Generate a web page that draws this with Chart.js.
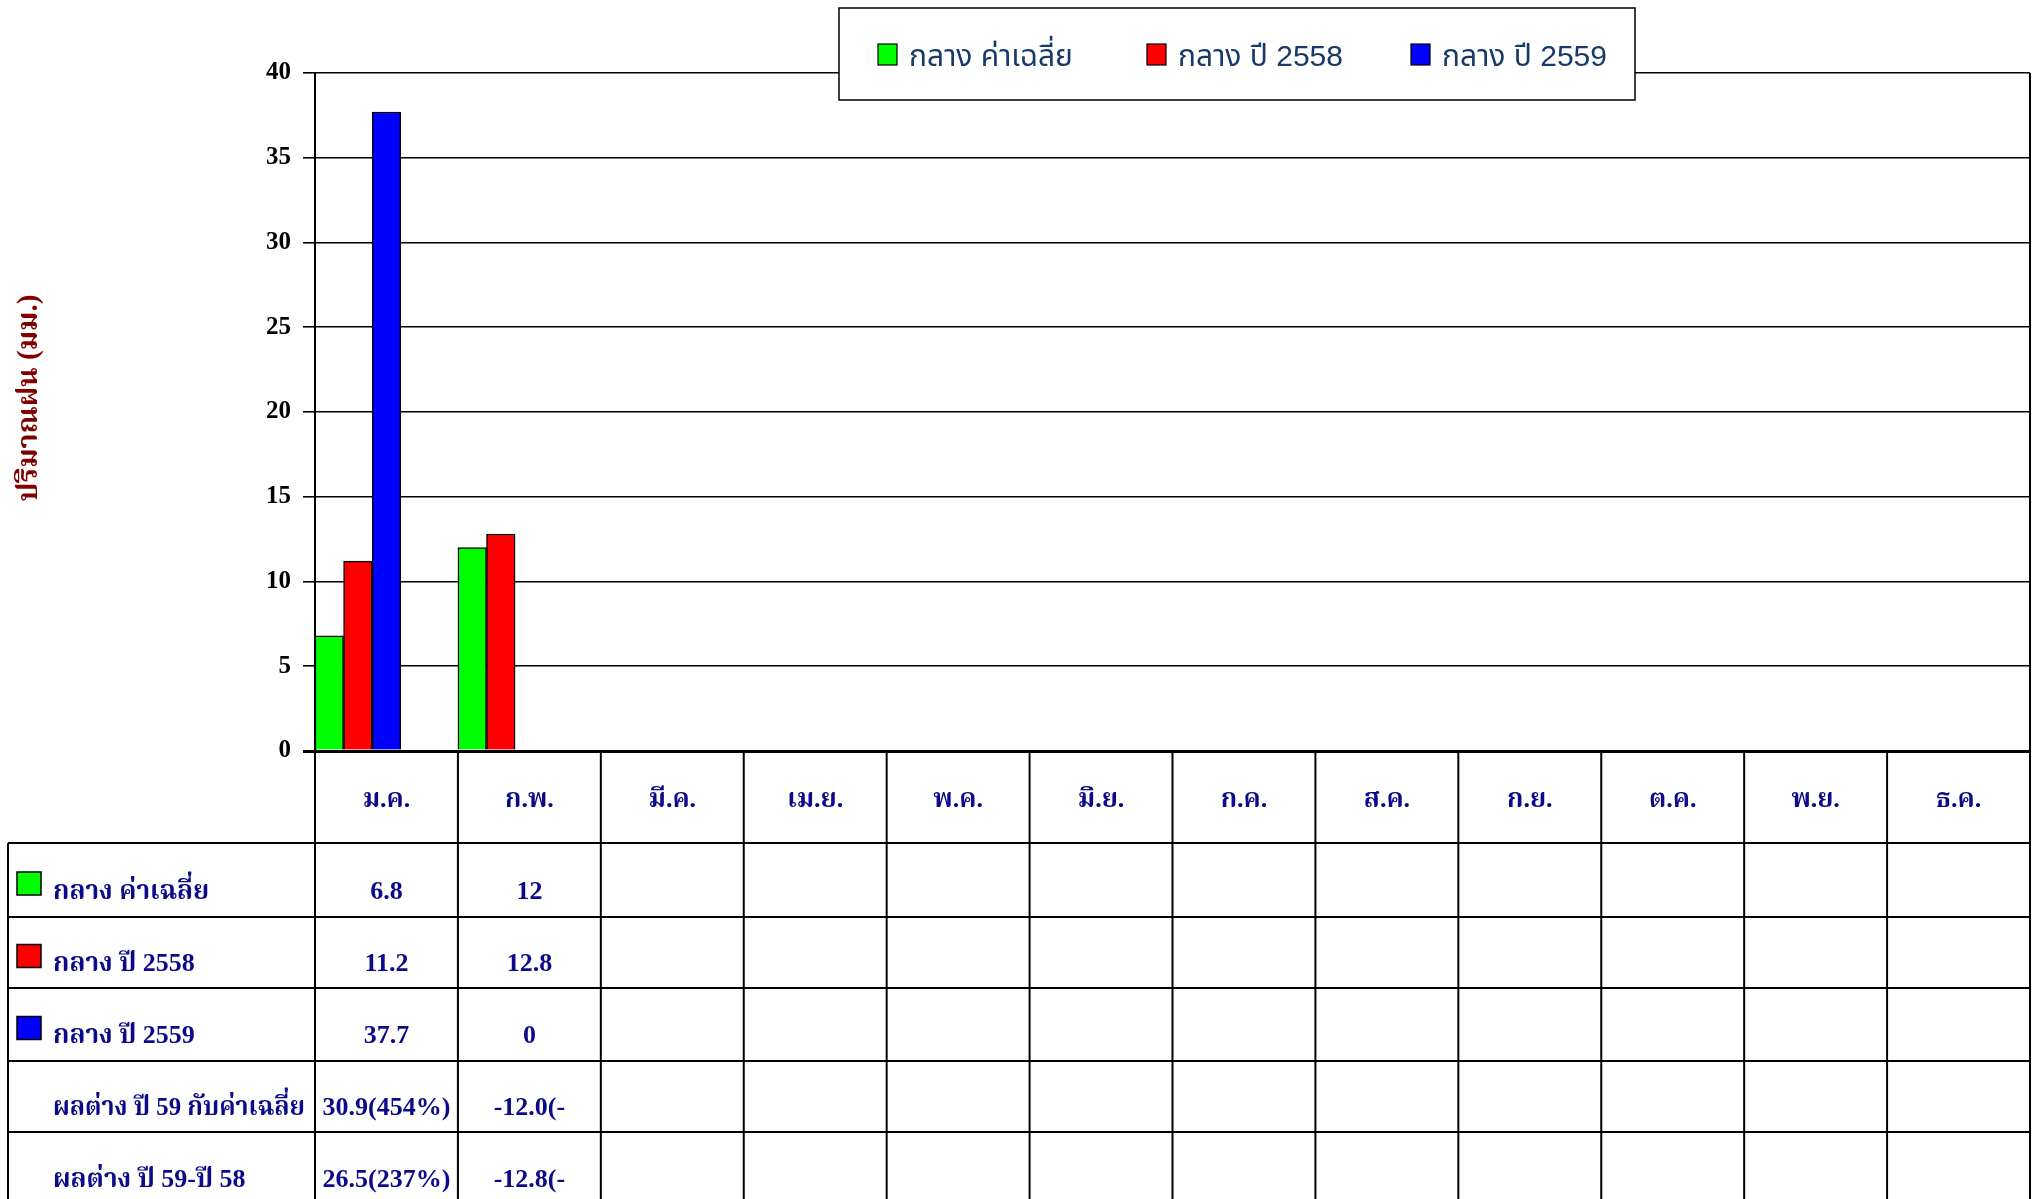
<!DOCTYPE html>
<html>
<head>
<meta charset="utf-8">
<script src="https://cdn.jsdelivr.net/npm/chart.js@4.4.1/dist/chart.umd.min.js"></script>
<style>
  html, body { margin: 0; padding: 0; background: #ffffff; }
</style>
</head>
<body>
<canvas id="rainChart" width="2033" height="1199"></canvas>
<script>
// ปริมาณฝนภาคกลาง รายเดือน (มม.)
const months = ['ม.ค.', 'ก.พ.', 'มี.ค.', 'เม.ย.', 'พ.ค.', 'มิ.ย.', 'ก.ค.', 'ส.ค.', 'ก.ย.', 'ต.ค.', 'พ.ย.', 'ธ.ค.'];
const seriesNames = ['กลาง ค่าเฉลี่ย', 'กลาง ปี 2558', 'กลาง ปี 2559'];
const seriesColors = ['#00ff00', '#ff0000', '#0000ff'];

const rainAvg  = [6.8, 12, null, null, null, null, null, null, null, null, null, null];
const rain2558 = [11.2, 12.8, null, null, null, null, null, null, null, null, null, null];
const rain2559 = [37.7, 0, null, null, null, null, null, null, null, null, null, null];

// แถวผลต่าง (ข้อความในตาราง)
const diffNames = ['ผลต่าง ปี 59 กับค่าเฉลี่ย', 'ผลต่าง ปี 59-ปี 58'];
const diffAvg  = ['30.9(454%)', '-12.0(-', '', '', '', '', '', '', '', '', '', ''];
const diffYear = ['26.5(237%)', '-12.8(-', '', '', '', '', '', '', '', '', '', ''];

const yMin = 0, yMax = 40, yStep = 5;
const yTitle = 'ปริมาณฝน (มม.)';

const SERIF = "'Liberation Serif', 'Times New Roman', 'Noto Serif Thai', serif";
const SANS = "'Liberation Sans', Arial, 'Noto Sans Thai', sans-serif";
const NAVY = '#0a0a8a';

const seriesData = [rainAvg, rain2558, rain2559];

// ตารางข้อมูลใต้กราฟ + กรอบด้านขวา + คำอธิบาย
const dataTablePlugin = {
    id: 'dataTable',
    afterDraw(chart) {
        const ctx = chart.ctx;
        const area = chart.chartArea;
        const xs = chart.scales.x;
        const colW = (xs.right - xs.left) / months.length;
        const tableLeft = 8;
        const bottom = chart.height;
        const rowLines = [843, 917, 988, 1061, 1132];
        const rightX = area.right;

        ctx.save();
        ctx.strokeStyle = '#000';
        ctx.lineWidth = 2;

        // กรอบขวาของพื้นที่กราฟ
        ctx.beginPath();
        ctx.moveTo(rightX, area.top);
        ctx.lineTo(rightX, bottom);
        ctx.stroke();

        // เส้นแนวตั้งของคอลัมน์เดือน
        for (let i = 0; i <= months.length; i++) {
            const x = xs.left + i * colW;
            ctx.beginPath();
            ctx.moveTo(x, area.bottom);
            ctx.lineTo(x, bottom);
            ctx.stroke();
        }
        ctx.beginPath();
        ctx.moveTo(tableLeft, rowLines[0]);
        ctx.lineTo(tableLeft, bottom);
        ctx.stroke();

        rowLines.forEach(y => {
            ctx.beginPath();
            ctx.moveTo(tableLeft, y);
            ctx.lineTo(rightX, y);
            ctx.stroke();
        });

        // หัวคอลัมน์เดือน
        ctx.fillStyle = NAVY;
        ctx.textAlign = 'center';
        ctx.textBaseline = 'middle';
        ctx.font = 'bold 26px ' + SERIF;
        months.forEach((m, i) => {
            ctx.fillText(m, xs.left + (i + 0.5) * colW, (area.bottom + rowLines[0]) / 2 + 3);
        });

        // แถวข้อมูล
        const rows = [];
        seriesNames.forEach((name, s) => {
            rows.push({
                label: name,
                color: seriesColors[s],
                cells: seriesData[s].map(v => v === null ? '' : String(v))
            });
        });
        rows.push({ label: diffNames[0], color: null, cells: diffAvg });
        rows.push({ label: diffNames[1], color: null, cells: diffYear });

        const rowEdges = rowLines.concat([1204]);
        rows.forEach((row, r) => {
            const top = rowEdges[r];
            const bot = rowEdges[r + 1];
            const midY = (top + bot) / 2 + 12;
            if (row.color) {
                ctx.fillStyle = row.color;
                ctx.fillRect(17, midY - 20, 24, 23);
                ctx.lineWidth = 1.5;
                ctx.strokeRect(17, midY - 20, 24, 23);
            }
            ctx.fillStyle = NAVY;
            ctx.textAlign = 'left';
            ctx.font = 'bold 26px ' + SERIF;
            ctx.fillText(row.label, 53, midY, 252);
            ctx.textAlign = 'center';
            row.cells.forEach((c, i) => {
                if (c !== '') ctx.fillText(c, xs.left + (i + 0.5) * colW, midY, colW - 8);
            });
        });

        // ชื่อแกน Y
        ctx.save();
        ctx.translate(30, 398);
        ctx.rotate(-Math.PI / 2);
        ctx.fillStyle = '#800000';
        ctx.font = 'bold 29px ' + SERIF;
        ctx.textAlign = 'center';
        ctx.fillText(yTitle, 0, 0);
        ctx.restore();

        // คำอธิบายสัญลักษณ์
        const lg = { x: 839, y: 8, w: 796, h: 92 };
        ctx.fillStyle = '#fff';
        ctx.fillRect(lg.x, lg.y, lg.w, lg.h);
        ctx.strokeStyle = '#000';
        ctx.lineWidth = 1.5;
        ctx.strokeRect(lg.x, lg.y, lg.w, lg.h);
        ctx.font = '30px ' + SANS;
        ctx.textAlign = 'left';
        const starts = [878, 1147, 1411];
        chart.data.datasets.slice(0, 3).forEach((ds, i) => {
            const bx = starts[i];
            ctx.fillStyle = ds.backgroundColor;
            ctx.fillRect(bx, 44, 19, 21);
            ctx.strokeStyle = '#000';
            ctx.lineWidth = 1.2;
            ctx.strokeRect(bx, 44, 19, 21);
            ctx.fillStyle = '#173a6a';
            ctx.fillText(ds.label, bx + 31, 58);
        });
        ctx.restore();
    }
};

const datasets = seriesNames.map((name, i) => ({
    label: name,
    data: seriesData[i],
    backgroundColor: seriesColors[i],
    borderColor: '#000',
    borderWidth: 1.5
}));
// ช่องว่างสำหรับแถวผลต่าง (ไม่มีแท่ง)
diffNames.forEach(name => {
    datasets.push({ label: name, data: months.map(() => null), backgroundColor: 'rgba(0,0,0,0)' });
});

new Chart(document.getElementById('rainChart'), {
    type: 'bar',
    data: {
        labels: months,
        datasets: datasets
    },
    options: {
        responsive: false,
        animation: false,
        layout: {
            padding: { left: 0, right: 3, top: 73, bottom: 448 }
        },
        plugins: {
            legend: { display: false },
            tooltip: { enabled: false }
        },
        datasets: {
            bar: { categoryPercentage: 1, barPercentage: 1 }
        },
        scales: {
            x: {
                display: false
            },
            y: {
                min: yMin,
                max: yMax,
                ticks: {
                    stepSize: yStep,
                    color: '#000',
                    padding: 12,
                    font: { family: SERIF, size: 25, weight: 'bold' }
                },
                grid: {
                    color: '#000',
                    lineWidth: ctx => ctx.tick && ctx.tick.value === 0 ? 3 : 1.6,
                    tickLength: 12
                },
                border: { color: '#000', width: 2 },
                afterFit(axis) {
                    axis.width = 315;
                }
            }
        }
    },
    plugins: [dataTablePlugin]
});
</script>
</body>
</html>
